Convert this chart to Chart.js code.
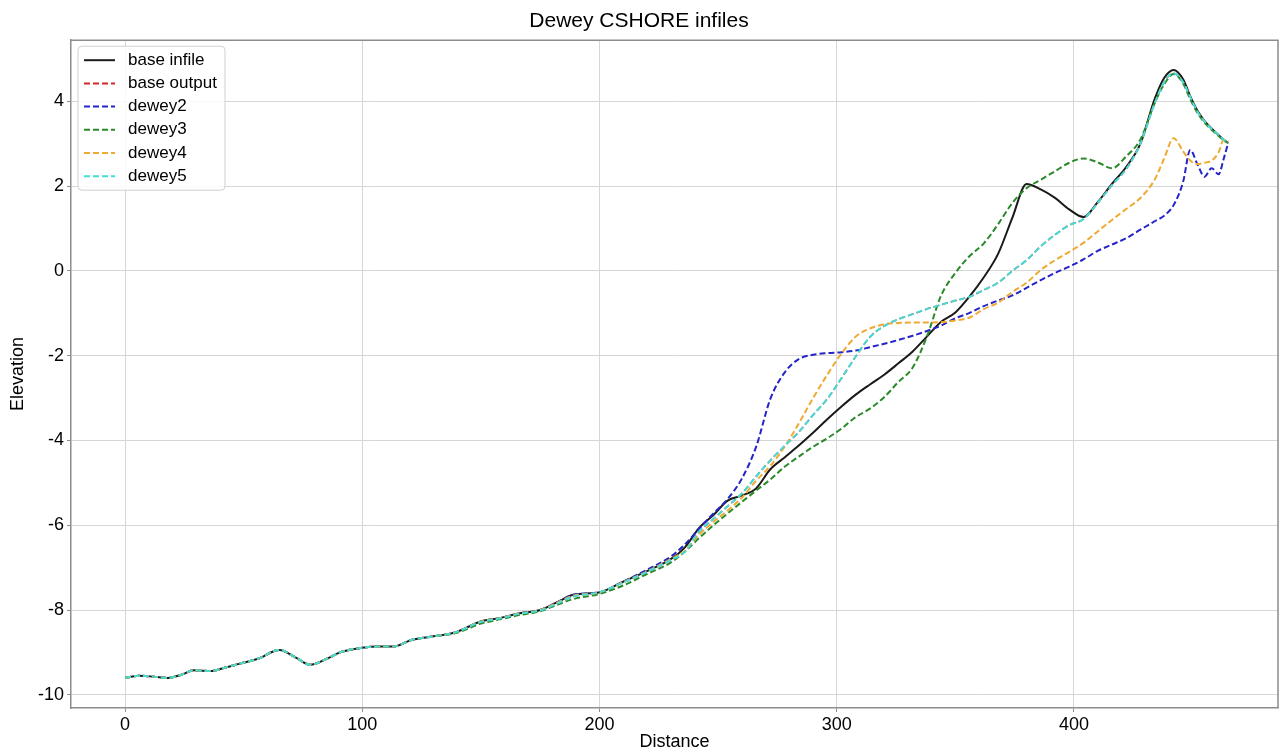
<!DOCTYPE html>
<html>
<head>
<meta charset="utf-8">
<script src="https://cdn.jsdelivr.net/npm/chart.js@4.4.0/dist/chart.umd.min.js"></script>
<style>
  html, body { margin: 0; padding: 0; background: #fff; }
  #wrap { width: 1280px; height: 753px; position: relative; }
</style>
</head>
<body>
<div id="wrap"><canvas id="chart"></canvas></div>
<script>
// distance along the profile (shared by all series)
const distance = [0, 6, 12, 18, 24, 29, 36, 42, 48, 56, 65, 72, 78, 85, 91, 100, 107, 113, 121, 130,
  139, 150, 158, 166, 175, 182, 189, 200, 210, 220, 230, 236, 242, 248, 254, 260, 266, 272, 278, 284,
  290, 296, 302, 308, 314, 320, 326, 332, 338, 344, 350, 356, 362, 368, 374, 380, 386, 392, 398, 404,
  410, 416, 422, 428, 434, 438, 442, 446, 449, 452, 455, 458, 461, 463, 465];

const xTicks = [0, 100, 200, 300, 400];
const yTicks = [-10, -8, -6, -4, -2, 0, 2, 4];

const baseInfile = [-9.60, -9.55, -9.57, -9.60, -9.52, -9.42, -9.44, -9.36, -9.27, -9.15,
  -8.94, -9.12, -9.29, -9.15, -8.99, -8.89, -8.86, -8.86, -8.70, -8.62,
  -8.53, -8.27, -8.19, -8.08, -8.00, -7.82, -7.64, -7.58, -7.33, -7.08,
  -6.80, -6.52, -6.06, -5.76, -5.42, -5.30, -5.13, -4.68, -4.40, -4.12,
  -3.82, -3.50, -3.20, -2.92, -2.68, -2.45, -2.18, -1.90, -1.55, -1.20,
  -0.98, -0.60, -0.15, 0.40, 1.25, 2.05, 1.92, 1.72, 1.45, 1.27,
  1.62, 2.05, 2.45, 3.00, 4.05, 4.55, 4.74, 4.52, 4.12, 3.78,
  3.54, 3.36, 3.20, 3.10, 3.02];

const baseOutput = [-9.60, -9.55, -9.57, -9.60, -9.52, -9.42, -9.44, -9.36, -9.27, -9.15,
  -8.94, -9.12, -9.29, -9.15, -8.99, -8.89, -8.86, -8.86, -8.70, -8.62,
  -8.53, -8.28, -8.20, -8.09, -8.01, -7.85, -7.68, -7.58, -7.35, -7.10,
  -6.82, -6.62, -6.15, -5.85, -5.55, -5.25, -4.85, -4.47, -4.13, -3.80,
  -3.40, -3.02, -2.53, -2.02, -1.56, -1.30, -1.14, -1.02, -0.90, -0.80,
  -0.70, -0.61, -0.45, -0.28, 0.00, 0.25, 0.58, 0.85, 1.08, 1.22,
  1.60, 2.02, 2.40, 3.00, 3.95, 4.45, 4.66, 4.45, 4.10, 3.76,
  3.53, 3.35, 3.20, 3.10, 3.02];

const dewey2 = [-9.60, -9.55, -9.57, -9.60, -9.52, -9.42, -9.44, -9.36, -9.27, -9.15,
  -8.94, -9.12, -9.29, -9.15, -8.99, -8.89, -8.86, -8.86, -8.70, -8.62,
  -8.53, -8.27, -8.19, -8.08, -8.00, -7.82, -7.64, -7.58, -7.33, -7.05,
  -6.74, -6.45, -6.08, -5.72, -5.38, -4.90, -4.15, -3.02, -2.40, -2.08,
  -1.98, -1.94, -1.92, -1.88, -1.80, -1.72, -1.63, -1.53, -1.42, -1.29,
  -1.12, -0.99, -0.83, -0.70, -0.58, -0.40, -0.22, -0.05, 0.10, 0.27,
  0.47, 0.62, 0.77, 0.97, 1.17, 1.30, 1.55, 2.10, 2.85, 2.52,
  2.22, 2.42, 2.28, 2.62, 3.02];

const dewey3 = [-9.60, -9.55, -9.57, -9.60, -9.52, -9.42, -9.44, -9.36, -9.27, -9.15,
  -8.94, -9.12, -9.29, -9.15, -8.99, -8.89, -8.86, -8.86, -8.70, -8.62,
  -8.55, -8.32, -8.22, -8.12, -8.03, -7.88, -7.74, -7.62, -7.42, -7.15,
  -6.88, -6.62, -6.30, -6.00, -5.72, -5.45, -5.18, -4.92, -4.62, -4.38,
  -4.15, -3.95, -3.72, -3.45, -3.25, -2.98, -2.62, -2.28, -1.55, -0.58,
  -0.05, 0.35, 0.65, 1.10, 1.60, 1.95, 2.15, 2.35, 2.55, 2.65,
  2.56, 2.42, 2.70, 3.10, 3.95, 4.40, 4.64, 4.42, 4.05, 3.73,
  3.50, 3.33, 3.18, 3.08, 3.02];

const dewey4 = [-9.60, -9.55, -9.57, -9.60, -9.52, -9.42, -9.44, -9.36, -9.27, -9.15,
  -8.94, -9.12, -9.29, -9.15, -8.99, -8.89, -8.86, -8.86, -8.70, -8.62,
  -8.53, -8.27, -8.19, -8.08, -8.00, -7.83, -7.66, -7.58, -7.34, -7.09,
  -6.80, -6.60, -6.22, -5.92, -5.65, -5.35, -4.95, -4.60, -4.15, -3.60,
  -3.00, -2.45, -1.95, -1.55, -1.36, -1.26, -1.23, -1.22, -1.22, -1.21,
  -1.17, -1.10, -0.90, -0.75, -0.50, -0.28, 0.02, 0.25, 0.45, 0.66,
  0.93, 1.20, 1.46, 1.72, 2.15, 2.65, 3.13, 2.82, 2.60, 2.52,
  2.55, 2.60, 2.80, 3.08, 3.05];

const dewey5 = [-9.60, -9.55, -9.57, -9.60, -9.52, -9.42, -9.44, -9.36, -9.27, -9.15,
  -8.94, -9.12, -9.29, -9.15, -8.99, -8.89, -8.86, -8.86, -8.70, -8.62,
  -8.53, -8.28, -8.20, -8.09, -8.01, -7.85, -7.68, -7.58, -7.35, -7.10,
  -6.82, -6.62, -6.15, -5.85, -5.55, -5.25, -4.85, -4.47, -4.13, -3.80,
  -3.40, -3.02, -2.53, -2.02, -1.56, -1.30, -1.14, -1.02, -0.90, -0.80,
  -0.70, -0.61, -0.45, -0.28, 0.00, 0.25, 0.58, 0.85, 1.08, 1.22,
  1.60, 2.02, 2.40, 3.00, 3.95, 4.45, 4.66, 4.45, 4.10, 3.76,
  3.53, 3.35, 3.20, 3.10, 3.02];

const seriesNames = ['base infile', 'base output', 'dewey2', 'dewey3', 'dewey4', 'dewey5'];
const seriesValues = [baseInfile, baseOutput, dewey2, dewey3, dewey4, dewey5];
const seriesColors = ['#1a1a1a', '#d62728', '#2424c8', '#2a8a2a', '#eeaa33', '#44dcd4'];
const seriesDash = [[], [6, 3], [6, 3], [6, 3], [6, 3], [6, 3]];
const seriesWidth = [2, 1.6, 2, 2, 2, 2];

const FONT = 'Arial, "Liberation Sans", sans-serif';

const datasets = seriesNames.map((name, i) => ({
  label: name,
  data: distance.map((d, k) => ({ x: d, y: seriesValues[i][k] })),
  borderColor: seriesColors[i],
  borderDash: seriesDash[i],
  borderWidth: seriesWidth[i],
  pointRadius: 0,
  fill: false,
  cubicInterpolationMode: 'monotone',
  order: seriesNames.length - i   // later series drawn on top
}));

// top/right spines and the boxed legend inside the plot
const framePlugin = {
  id: 'frame',
  afterDraw(chart) {
    const ctx = chart.ctx;
    const a = chart.chartArea;
    ctx.save();
    ctx.strokeStyle = '#8c8c8c';
    ctx.lineWidth = 1.5;
    ctx.beginPath();
    ctx.moveTo(a.left, a.top);
    ctx.lineTo(a.right, a.top);
    ctx.lineTo(a.right, a.bottom);
    ctx.stroke();

    // legend
    const bx = a.left + 7, by = a.top + 6, bw = 147, bh = 144;
    ctx.fillStyle = 'rgba(255,255,255,0.85)';
    ctx.strokeStyle = '#d0d0d0';
    ctx.lineWidth = 1;
    ctx.beginPath();
    ctx.roundRect(bx, by, bw, bh, 4);
    ctx.fill();
    ctx.stroke();
    ctx.font = '17px ' + FONT;
    ctx.textBaseline = 'middle';
    seriesNames.forEach((name, i) => {
      const y = by + 14 + i * 23.2;
      ctx.strokeStyle = seriesColors[i];
      ctx.lineWidth = 2;
      ctx.setLineDash(seriesDash[i]);
      ctx.beginPath();
      ctx.moveTo(bx + 6, y);
      ctx.lineTo(bx + 37, y);
      ctx.stroke();
      ctx.setLineDash([]);
      ctx.fillStyle = '#000';
      ctx.fillText(name, bx + 50, y);
    });
    ctx.restore();
  }
};

new Chart(document.getElementById('chart'), {
  type: 'line',
  data: { datasets },
  options: {
    responsive: true,
    maintainAspectRatio: false,
    animation: false,
    layout: { padding: { left: 0, right: 2, top: 0, bottom: 0 } },
    plugins: {
      legend: { display: false },
      tooltip: { enabled: false },
      title: {
        display: true,
        text: 'Dewey CSHORE infiles',
        color: '#000',
        font: { family: FONT, size: 21, weight: 'normal' },
        padding: { top: 9, bottom: 6 }
      }
    },
    scales: {
      x: {
        type: 'linear',
        min: -22.8,
        max: 486,
        title: {
          display: true,
          text: 'Distance',
          color: '#000',
          font: { family: FONT, size: 18 },
          padding: { top: 0, bottom: 0 }
        },
        ticks: {
          color: '#000',
          font: { family: FONT, size: 18 },
          padding: 2,
          maxRotation: 0
        },
        afterBuildTicks(scale) { scale.ticks = xTicks.map(v => ({ value: v })); },
        grid: { color: '#d6d6d6', lineWidth: 1, tickLength: 4, tickColor: '#8c8c8c' },
        border: { color: '#8c8c8c', width: 1.5 },
        afterFit(scale) { scale.height = 45; }
      },
      y: {
        type: 'linear',
        min: -10.31,
        max: 5.44,
        title: {
          display: true,
          text: 'Elevation',
          color: '#000',
          font: { family: FONT, size: 18 },
          padding: { top: 7, bottom: 0 }
        },
        ticks: {
          color: '#000',
          font: { family: FONT, size: 18 },
          padding: 3
        },
        afterBuildTicks(scale) { scale.ticks = yTicks.map(v => ({ value: v })); },
        grid: { color: '#d6d6d6', lineWidth: 1, tickLength: 4, tickColor: '#8c8c8c' },
        border: { color: '#8c8c8c', width: 1.5 },
        afterFit(scale) { scale.width = 71; }
      }
    }
  },
  plugins: [framePlugin]
});
</script>
</body>
</html>
